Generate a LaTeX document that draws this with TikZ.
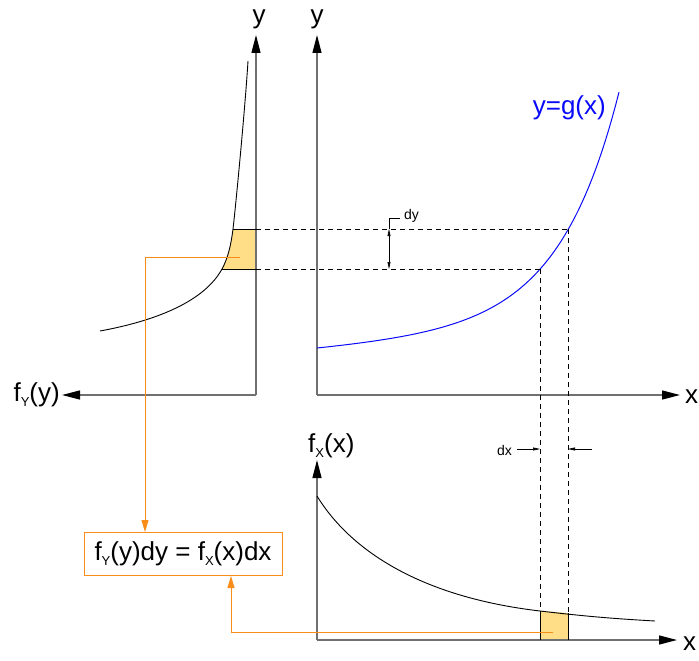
\documentclass[tikz,border=0pt]{standalone}
\usepackage{fontspec}
\setmainfont{Liberation Sans}
\usetikzlibrary{arrows.meta,positioning,calc}
\definecolor{axisgray}{RGB}{112,112,112}
\definecolor{curveblue}{RGB}{10,10,250}
\definecolor{linkorange}{RGB}{250,140,25}
\definecolor{bandfill}{RGB}{255,222,135}
\newcommand\lowsub[1]{\raisebox{-5pt}{\fontsize{13}{13}\selectfont #1}}

\begin{document}
\begin{tikzpicture}[x=1pt,y=-1pt,
  axis/.style={axisgray,line width=1.3pt,-{Triangle[length=18pt,width=9pt,color=black]}},
  guide/.style={black,line width=0.7pt,dash pattern=on 5pt off 4pt},
  link/.style={linkorange,line width=1pt,-{Triangle[length=12pt,width=7pt]}},
  dimarrow/.style={black,line width=0.6pt,{Triangle[length=7pt,width=3pt]}-{Triangle[length=7pt,width=3pt]}},
  lab/.style={font=\fontsize{26}{28}\selectfont,inner sep=0pt},
  small/.style={font=\fontsize{14}{16}\selectfont,inner sep=0pt}]
\useasboundingbox (0,0) rectangle (699,661);

% origins and axis ends
\coordinate (oY) at (256,395);
\coordinate (oX) at (317,395);
\coordinate (oF) at (317,640);
\coordinate (tipYup) at (256,35);
\coordinate (tipYleft) at (62,395);
\coordinate (tipXup) at (317,35);
\coordinate (tipXright) at (680,395);
\coordinate (tipFup) at (317,460);
\coordinate (tipFright) at (677,640);

% shaded bands
\fill[bandfill] (222,269) .. controls (228,258) and (231,245) .. (233,229) -- (256,229) -- (256,269) -- cycle;
\fill[bandfill] (540,611) -- (568,613) -- (568,640) -- (540,640) -- cycle;

% axes
\draw[axis] (oY) -- (tipYup);
\draw[axis] (oY) -- (tipYleft);
\draw[axis] (oX) -- (tipXup);
\draw[axis] (oX) -- (tipXright);
\draw[axis] (oF) -- (tipFup);
\draw[axis] (oF) -- (tipFright);

\node[lab] (ylabL) at (259,19) {y};
\node[lab] (ylabR) at (317,19) {y};
\node[lab,anchor=west] (xlab) at (685,397) {x};
\node[lab,anchor=west] (xlabF) at (683,644) {x};
\node[lab,anchor=east] (fYlab) at (60,395) {f\lowsub{Y}(y)};
\node[lab,anchor=west] (fXlab) at (308,446) {f\lowsub{X}(x)};

% curves
\draw[curveblue,line width=1pt] plot[domain=0:302,samples=90]
  ({317+\x},{348-0.08*\x-1.52*(exp(\x/60)-1)});
\node[lab,text=curveblue,anchor=east] (glab) at (606,108) {y=g(x)};
\draw[black,line width=0.9pt] (100,331) .. controls (160,320) and (205,300) .. (222,269)
  .. controls (228,258) and (231,245) .. (233,229)
  .. controls (235,213) and (245,110) .. (248,61);
\draw[black,line width=0.9pt] (317,496) .. controls (350,550) and (420,597) .. (540,611)
  .. controls (580,615.7) and (610,618.5) .. (655,621);

% band edges
\coordinate (topL) at (233,229);
\coordinate (botL) at (222,269);
\coordinate (topR) at (568,229);
\coordinate (botR) at (540,269);
\draw[black,line width=0.8pt] (topL) -- (topL -| oY);
\draw[black,line width=0.8pt] (botL) -- (botL -| oY);
\draw[guide] (topL -| oY) -- (topR);
\draw[guide] (botL -| oY) -- (botR);
\draw[guide] (topR) -- (568,613);
\draw[guide] (botR) -- (540,611);
\draw[black,line width=0.8pt] (540,611) -- (540,640);
\draw[black,line width=0.8pt] (568,613) -- (568,640);

% dy marker
\coordinate (dyTop) at (389,229);
\coordinate (dyBot) at (389,269);
\draw[dimarrow] (dyTop) -- (dyBot);
\draw[black,line width=0.6pt] (dyTop) -- (389,218) -- (400,218);
\node[small,anchor=west] (dylab) at (404,216) {dy};

% dx marker
\node[small,anchor=east] (dxlab) at (512,450) {dx};
\draw[black,line width=0.6pt,-{Triangle[length=7pt,width=3pt]}] (dxlab.east) ++(5,-1) -- (540,449);
\draw[black,line width=0.6pt,-{Triangle[length=7pt,width=3pt]}] (592,449) -- (568,449);

% relation box and links
\node[draw=linkorange,line width=1pt,fill=white,minimum width=198pt,minimum height=43pt,
  font=\fontsize{26}{28}\selectfont] (rel) at (183,554) {f\lowsub{Y}(y)dy = f\lowsub{X}(x)dx};
\coordinate (bandY) at (240,257);
\coordinate (turnY) at (145,257);
\coordinate (bandX) at (553,632);
\coordinate (turnX) at (231,632);
\draw[link] (bandY) -- (turnY) -- (turnY |- rel.north);
\draw[link] (bandX) -- (turnX) -- (turnX |- rel.south);
\end{tikzpicture}
\end{document}
